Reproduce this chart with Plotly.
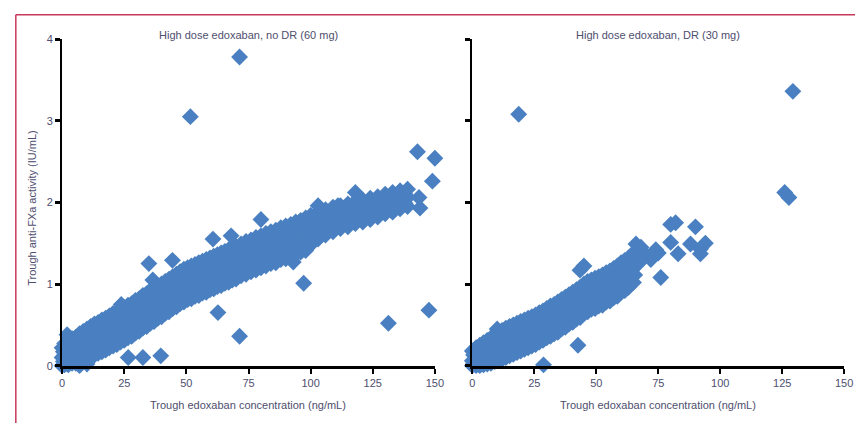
import plotly.graph_objects as go

# ---- Left panel: high dose edoxaban, no dose reduction (60 mg) ----
left_band_x = [0, 1, 2.5, 4, 5.5, 7, 8.5, 10, 11.5, 13,
               14.5, 16, 17.5, 19, 20.5, 22, 23.5, 25, 26.5, 28,
               29.5, 31, 32.5, 34, 35.5, 37, 38.5, 40, 41.5, 43,
               44.5, 46, 47.5, 49, 50.5, 52, 53.5, 55, 56.5, 58,
               59.5, 61, 62.5, 64, 65.5, 67, 68.5, 70, 72, 74,
               76, 78, 80, 82, 84, 86, 88, 90, 92, 94,
               96, 98, 100, 103, 106, 109, 112, 115, 118, 121,
               124, 127, 130, 133, 136, 139]
left_band_mid = [0.10, 0.13, 0.14, 0.17, 0.18, 0.21, 0.23, 0.26, 0.28, 0.31,
                 0.33, 0.36, 0.38, 0.41, 0.43, 0.45, 0.48, 0.50, 0.53, 0.56,
                 0.59, 0.62, 0.65, 0.68, 0.71, 0.74, 0.77, 0.80, 0.83, 0.86,
                 0.89, 0.92, 0.95, 0.98, 1.00, 1.02, 1.04, 1.06, 1.08, 1.10,
                 1.12, 1.14, 1.16, 1.18, 1.20, 1.22, 1.24, 1.26, 1.29, 1.32,
                 1.34, 1.37, 1.39, 1.42, 1.44, 1.46, 1.49, 1.51, 1.53, 1.56,
                 1.58, 1.61, 1.66, 1.72, 1.76, 1.80, 1.83, 1.85, 1.88, 1.90,
                 1.92, 1.95, 1.98, 2.00, 2.03, 2.06]
left_band_lo = [0.00, 0.01, 0.01, 0.03, 0.03, 0.06, 0.07, 0.09, 0.11, 0.13,
                0.15, 0.17, 0.19, 0.22, 0.24, 0.26, 0.29, 0.31, 0.34, 0.36,
                0.40, 0.42, 0.46, 0.48, 0.52, 0.54, 0.58, 0.60, 0.64, 0.66,
                0.70, 0.72, 0.76, 0.78, 0.81, 0.82, 0.85, 0.86, 0.89, 0.90,
                0.93, 0.94, 0.97, 0.98, 1.01, 1.02, 1.05, 1.06, 1.10, 1.12,
                1.15, 1.17, 1.20, 1.22, 1.25, 1.26, 1.30, 1.31, 1.34, 1.36,
                1.39, 1.41, 1.48, 1.55, 1.60, 1.64, 1.68, 1.70, 1.74, 1.76,
                1.79, 1.82, 1.86, 1.88, 1.92, 1.95]
left_band_hi = [0.22, 0.27, 0.29, 0.33, 0.35, 0.39, 0.42, 0.45, 0.48, 0.51,
                0.53, 0.56, 0.58, 0.61, 0.64, 0.66, 0.69, 0.71, 0.74, 0.76,
                0.80, 0.82, 0.86, 0.88, 0.92, 0.94, 0.98, 1.00, 1.03, 1.06,
                1.09, 1.12, 1.15, 1.18, 1.20, 1.22, 1.24, 1.26, 1.28, 1.30,
                1.32, 1.34, 1.36, 1.38, 1.40, 1.42, 1.44, 1.46, 1.49, 1.52,
                1.54, 1.57, 1.59, 1.62, 1.64, 1.66, 1.69, 1.71, 1.73, 1.76,
                1.78, 1.81, 1.84, 1.88, 1.91, 1.94, 1.96, 1.98, 2.01, 2.03,
                2.05, 2.07, 2.10, 2.12, 2.14, 2.16]
# in-between samples that fill the dense cloud
left_fill_x = [0.5, 3, 6, 9, 12, 15, 18, 21, 24, 27,
               30, 33, 36, 39, 42, 45, 48, 51, 54, 57,
               60, 63, 66, 69, 72, 75, 78, 81, 84, 87,
               90, 93, 96, 99, 102, 105, 108, 111, 114, 117,
               120, 123, 126, 129, 132, 135, 138]
left_fill_lo = [0.05, 0.08, 0.11, 0.16, 0.20, 0.25, 0.29, 0.34, 0.39, 0.44,
                0.50, 0.56, 0.62, 0.68, 0.74, 0.80, 0.86, 0.91, 0.95, 0.99,
                1.03, 1.07, 1.11, 1.15, 1.19, 1.23, 1.27, 1.31, 1.34, 1.38,
                1.41, 1.45, 1.48, 1.54, 1.61, 1.66, 1.71, 1.74, 1.76, 1.80,
                1.82, 1.85, 1.87, 1.91, 1.93, 1.96, 1.99]
left_fill_hi = [0.17, 0.22, 0.27, 0.33, 0.39, 0.44, 0.49, 0.54, 0.59, 0.64,
                0.70, 0.76, 0.82, 0.88, 0.94, 1.00, 1.06, 1.11, 1.15, 1.19,
                1.23, 1.27, 1.31, 1.35, 1.39, 1.43, 1.47, 1.51, 1.54, 1.58,
                1.61, 1.65, 1.68, 1.73, 1.78, 1.82, 1.86, 1.88, 1.90, 1.93,
                1.95, 1.97, 2.00, 2.03, 2.05, 2.07, 2.10]
left_extra_x = [71.4, 51.6, 143.0, 150.0, 149.0, 143.6, 144.0, 118.0, 136.0, 103.0,
                111.0, 97.2, 131.3, 147.6, 62.7, 71.4, 34.9, 36.5, 44.4, 60.7,
                68.0, 80.0, 93.0, 2.0, 23.8, 15.0, 26.6, 32.5, 39.7, 0.5,
                4.0, 7.0, -1.0, 10.0]
left_extra_y = [3.78, 3.05, 2.62, 2.54, 2.26, 2.06, 1.93, 2.12, 2.14, 1.96,
                1.96, 1.01, 0.52, 0.68, 0.65, 0.36, 1.25, 1.05, 1.29, 1.55,
                1.59, 1.79, 1.27, 0.38, 0.75, 0.51, 0.10, 0.10, 0.12, -0.02,
                -0.03, 0.00, 0.05, 0.02]

# ---- Right panel: high dose edoxaban, dose reduced (30 mg) ----
right_band_x = [0, 1.5, 3, 4.5, 6, 7.5, 9, 10.5, 12, 13.5,
                15, 16.5, 18, 19.5, 21, 22.5, 24, 25.5, 27, 28.5,
                30, 31.5, 33, 34.5, 36, 37.5, 39, 40.5, 42, 43.5,
                45, 46.5, 48, 49.5, 51, 52.5, 54, 55.5, 57, 58.5,
                60, 61.5, 63, 65]
right_band_mid = [0.06, 0.08, 0.10, 0.12, 0.14, 0.17, 0.20, 0.22, 0.25, 0.27,
                  0.30, 0.32, 0.34, 0.36, 0.38, 0.40, 0.42, 0.44, 0.47, 0.49,
                  0.52, 0.55, 0.57, 0.60, 0.63, 0.66, 0.69, 0.72, 0.75, 0.78,
                  0.82, 0.85, 0.87, 0.89, 0.91, 0.93, 0.96, 0.98, 1.01, 1.04,
                  1.08, 1.11, 1.14, 1.20]
right_band_lo = [0.00, 0.00, 0.00, 0.01, 0.02, 0.03, 0.05, 0.06, 0.08, 0.10,
                 0.12, 0.14, 0.16, 0.18, 0.20, 0.22, 0.24, 0.26, 0.29, 0.31,
                 0.34, 0.36, 0.39, 0.41, 0.45, 0.47, 0.51, 0.53, 0.57, 0.59,
                 0.64, 0.66, 0.69, 0.70, 0.73, 0.74, 0.78, 0.79, 0.83, 0.85,
                 0.90, 0.92, 0.96, 1.02]
right_band_hi = [0.18, 0.22, 0.25, 0.28, 0.31, 0.34, 0.37, 0.40, 0.43, 0.46,
                 0.48, 0.50, 0.52, 0.54, 0.56, 0.58, 0.60, 0.62, 0.65, 0.67,
                 0.70, 0.73, 0.75, 0.78, 0.81, 0.84, 0.87, 0.90, 0.93, 0.96,
                 1.00, 1.03, 1.05, 1.07, 1.09, 1.11, 1.14, 1.16, 1.19, 1.22,
                 1.26, 1.29, 1.32, 1.38]
right_fill_x = [0.5, 3, 6, 9, 12, 15, 18, 21, 24, 27,
                30, 33, 36, 39, 42, 45, 48, 51, 54, 57,
                60, 63, 65.5]
right_fill_lo = [0.03, 0.05, 0.08, 0.12, 0.16, 0.21, 0.25, 0.29, 0.33, 0.38,
                 0.43, 0.48, 0.54, 0.60, 0.66, 0.73, 0.78, 0.82, 0.87, 0.92,
                 0.99, 1.05, 1.11]
right_fill_hi = [0.13, 0.17, 0.22, 0.28, 0.34, 0.39, 0.43, 0.47, 0.51, 0.56,
                 0.61, 0.66, 0.72, 0.78, 0.84, 0.91, 0.96, 1.00, 1.05, 1.10,
                 1.17, 1.23, 1.29]
right_extra_x = [18.7, 129.3, 126.0, 127.7, 42.6, 28.7, 43.4, 45.0, 66.0, 80.0,
                 82.0, 90.0, 80.0, 83.0, 76.0, 88.0, 92.0, 94.0, 92.0, 67.0,
                 70.0, 72.0, 74.0, 75.0, 68.0, 10.0, -1.0, 1.0]
right_extra_y = [3.08, 3.36, 2.12, 2.06, 0.25, 0.01, 1.17, 1.22, 1.49, 1.73,
                 1.75, 1.70, 1.51, 1.37, 1.08, 1.49, 1.43, 1.50, 1.37, 1.25,
                 1.35, 1.30, 1.42, 1.38, 1.45, 0.45, 0.02, -0.03]

x_ticks = [0, 25, 50, 75, 100, 125, 150]
y_ticks = [0, 1, 2, 3, 4]

panel_titles = ["High dose edoxaban, no DR (60 mg)", "High dose edoxaban, DR (30 mg)"]
x_title = "Trough edoxaban concentration (ng/mL)"
y_title = "Trough anti-FXa activity (IU/mL)"

MARKER_COLOR = "#4a80c1"
TEXT_COLOR = "#4e4e6e"
FONT = "Liberation Sans Narrow, Liberation Sans, Arial"

fig = go.Figure()


def add_points(xs, ys, xa, ya):
    fig.add_trace(go.Scatter(
        x=xs, y=ys, mode="markers", xaxis=xa, yaxis=ya,
        marker=dict(symbol="diamond", size=13, color=MARKER_COLOR, line=dict(width=0)),
        cliponaxis=False, showlegend=False, hoverinfo="x+y",
    ))


for ys in (left_band_lo, left_band_mid, left_band_hi):
    add_points(left_band_x, ys, "x", "y")
for ys in (left_fill_lo, left_fill_hi):
    add_points(left_fill_x, ys, "x", "y")
add_points(left_extra_x, left_extra_y, "x", "y")

for ys in (right_band_lo, right_band_mid, right_band_hi):
    add_points(right_band_x, ys, "x2", "y2")
for ys in (right_fill_lo, right_fill_hi):
    add_points(right_fill_x, ys, "x2", "y2")
add_points(right_extra_x, right_extra_y, "x2", "y2")

y_dom = [0.1375, 0.9207]
axis_common = dict(
    showgrid=False, zeroline=False, ticks="outside", tickcolor="black",
    tickfont=dict(family=FONT, size=11, color=TEXT_COLOR),
    linecolor="black", showline=True,
)

fig.update_layout(
    width=864, height=429,
    margin=dict(l=0, r=0, t=0, b=0),
    paper_bgcolor="white", plot_bgcolor="white",
    font=dict(family=FONT, color=TEXT_COLOR),
    xaxis=dict(domain=[0.0694, 0.5069], range=[0, 150], tickvals=x_ticks,
               linewidth=3, ticklen=5, tickwidth=2, anchor="y", **axis_common),
    yaxis=dict(domain=y_dom, range=[0, 4], tickvals=y_ticks,
               linewidth=2, ticklen=5, tickwidth=3, anchor="x", **axis_common),
    xaxis2=dict(domain=[0.5509, 0.9873], range=[0, 150], tickvals=x_ticks,
                linewidth=3, ticklen=5, tickwidth=2, anchor="y2", **axis_common),
    yaxis2=dict(domain=y_dom, range=[0, 4], tickvals=y_ticks, showticklabels=False,
                linewidth=2, ticklen=5, tickwidth=3, anchor="x2", **axis_common),
)

# panel titles and axis titles
for xc, title in zip([0.288, 0.769], panel_titles):
    fig.add_annotation(x=xc, y=(429 - 30) / 429, xref="paper", yref="paper",
                       text=title, showarrow=False, xanchor="center", yanchor="middle",
                       font=dict(family=FONT, size=11, color=TEXT_COLOR))
for xc in [0.288, 0.769]:
    fig.add_annotation(x=xc, y=(429 - 410) / 429, xref="paper", yref="paper",
                       text=x_title, showarrow=False, xanchor="center", yanchor="middle",
                       font=dict(family=FONT, size=11, color=TEXT_COLOR))
fig.add_annotation(x=30 / 864, y=(429 - 208) / 429, xref="paper", yref="paper",
                   text=y_title, showarrow=False, textangle=-90,
                   xanchor="center", yanchor="middle",
                   font=dict(family=FONT, size=11, color=TEXT_COLOR))

# outer frame (top and left edges)
fig.add_shape(type="line", xref="paper", yref="paper",
              x0=13 / 864, y0=(429 - 9) / 429, x1=1, y1=(429 - 9) / 429,
              line=dict(color="#c8385a", width=1.5))
fig.add_shape(type="line", xref="paper", yref="paper",
              x0=13 / 864, y0=(429 - 9) / 429, x1=13 / 864, y1=0,
              line=dict(color="#c8385a", width=1.5))

fig.write_html("out.html")
